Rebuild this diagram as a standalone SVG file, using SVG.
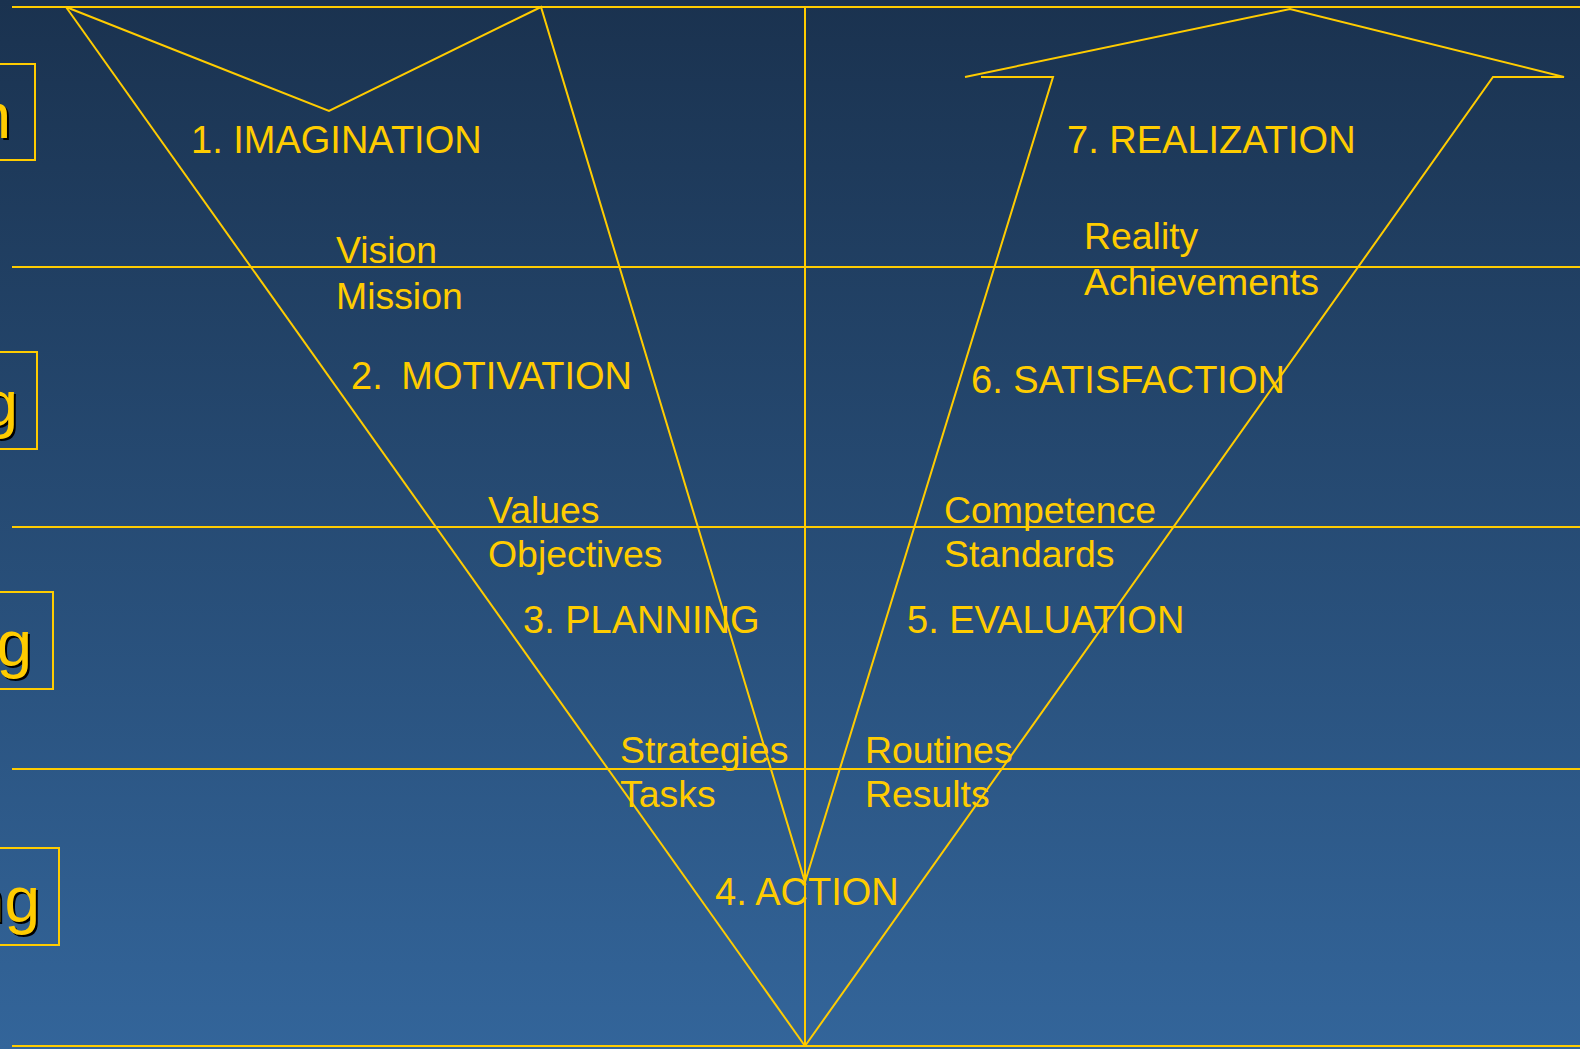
<svg xmlns="http://www.w3.org/2000/svg" width="1580" height="1049" viewBox="0 0 1580 1049">
<defs>
<linearGradient id="bg" x1="0" y1="0" x2="0" y2="1">
<stop offset="0" stop-color="#1a324f"/>
<stop offset="1" stop-color="#33659a"/>
</linearGradient>
<style>
.ln{stroke:#ffcc00;stroke-width:2;fill:none;stroke-linejoin:miter}
.t{font-family:"Liberation Sans",Arial,sans-serif;font-size:38px;fill:#ffcc00}
.s{font-family:"Liberation Sans",Arial,sans-serif;font-size:37.4px;fill:#ffcc00}
.bx{stroke:#ffcc00;stroke-width:2;fill:none}
.bt{font-family:"Liberation Sans",Arial,sans-serif;font-size:64px;fill:#ffcc00;text-anchor:end}
.sh{font-family:"Liberation Sans",Arial,sans-serif;font-size:64px;fill:#000;text-anchor:end}
</style>
</defs>
<rect x="0" y="0" width="1580" height="1049" fill="url(#bg)"/>
<g id="connectors">
<line class="ln" x1="12" y1="7" x2="1580" y2="7"/>
<line class="ln" x1="12" y1="267" x2="1580" y2="267"/>
<line class="ln" x1="12" y1="527" x2="1580" y2="527"/>
<line class="ln" x1="12" y1="769" x2="1580" y2="769"/>
<line class="ln" x1="12" y1="1046" x2="1580" y2="1046"/>
<line class="ln" x1="805" y1="7" x2="805" y2="1046"/>
<polyline class="ln" points="66,7 805,1046"/>
<polyline class="ln" points="66,7 329,111 541,7 805,882"/>
<polyline class="ln" points="965,77 1290,9 1564,77 1493,77 805,1046"/>
<polyline class="ln" points="981,77 1053,77 805,882"/>
</g>
<g id="box1"><rect class="bx" x="-60" y="64" width="95" height="96"/><text class="sh" x="13" y="140">n</text><text class="bt" x="11" y="138">n</text></g>
<g id="box2"><rect class="bx" x="-60" y="352" width="97" height="97"/><text class="sh" x="20" y="428">g</text><text class="bt" x="18" y="426">g</text></g>
<g id="box3"><rect class="bx" x="-60" y="592" width="113" height="97"/><text class="sh" x="34" y="668">g</text><text class="bt" x="32" y="666">g</text></g>
<g id="box4"><rect class="bx" x="-60" y="848" width="119" height="97"/><text class="sh" x="42" y="924">ng</text><text class="bt" x="40" y="922">ng</text></g>
<g id="imagination"><text class="t" x="191" y="153">1. IMAGINATION</text></g>
<g id="vision"><text class="s" x="336" y="263">Vision</text><text class="s" x="336" y="309">Mission</text></g>
<g id="motivation"><text class="t" x="351" y="389">2. <tspan dx="8">MOTIVATION</tspan></text></g>
<g id="values"><text class="s" x="488" y="523">Values</text><text class="s" x="488" y="567">Objectives</text></g>
<g id="planning"><text class="t" x="523" y="633">3. PLANNING</text></g>
<g id="strategies"><text class="s" x="620" y="763">Strategies</text><text class="s" x="620" y="807">Tasks</text></g>
<g id="action"><text class="t" x="715" y="905">4. ACTION</text></g>
<g id="realization"><text class="t" x="1067" y="153">7. REALIZATION</text></g>
<g id="reality"><text class="s" x="1084" y="249">Reality</text><text class="s" x="1084" y="295">Achievements</text></g>
<g id="satisfaction"><text class="t" x="971" y="393">6. SATISFACTION</text></g>
<g id="competence"><text class="s" x="944" y="523">Competence</text><text class="s" x="944" y="567">Standards</text></g>
<g id="evaluation"><text class="t" x="907" y="633">5. EVALUATION</text></g>
<g id="routines"><text class="s" x="865" y="763">Routines</text><text class="s" x="865" y="807">Results</text></g>
</svg>
